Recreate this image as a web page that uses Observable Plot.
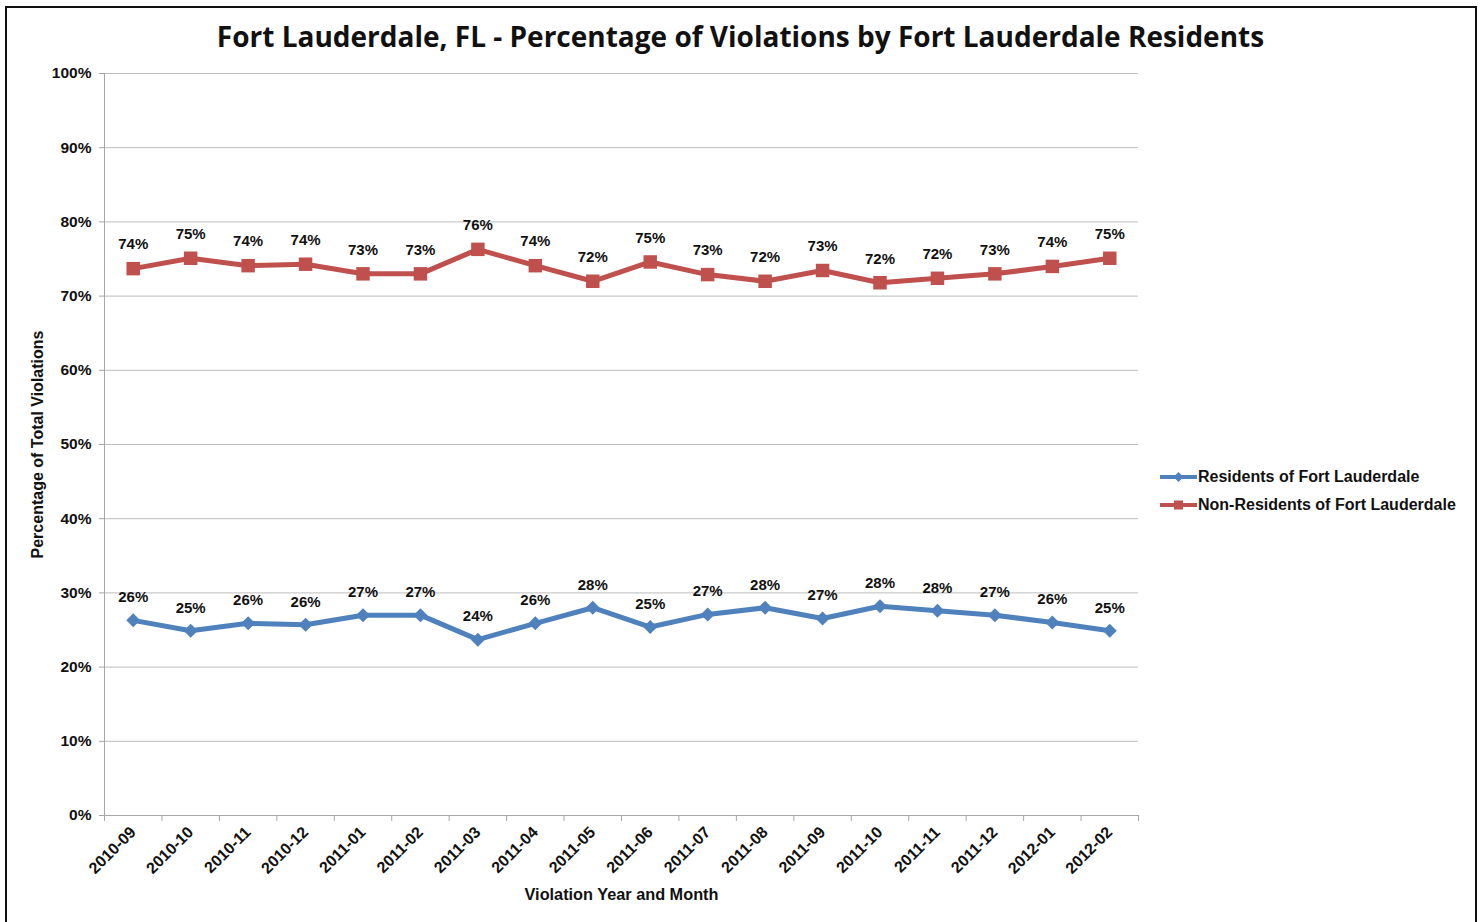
<!DOCTYPE html>
<html>
<head>
<meta charset="utf-8">
<script src="https://cdn.jsdelivr.net/npm/d3@7"></script>
<script src="https://cdn.jsdelivr.net/npm/@observablehq/plot@0.6"></script>
<style>
  html, body { margin: 0; padding: 0; background: #fff; }
  #wrap { position: relative; width: 1481px; height: 922px; overflow: hidden; background: #fff; font-family: "Liberation Sans", Arial, sans-serif; }
  #border { position: absolute; left: 5px; top: 6px; width: 1468px; height: 940px; border: 2px solid #111; box-sizing: content-box; }
  #title { position: absolute; left: 0; top: 20px; width: 1481px; text-align: center; font-family: "Open Sans", Lato, sans-serif; font-weight: 700; font-size: 28px; line-height: 32px; color: #111; }
  #chart { position: absolute; left: 0; top: 0; }
  .leg { position: absolute; left: 1160px; display: flex; align-items: center; font-weight: bold; font-size: 16px; color: #111; white-space: nowrap; }
  .leg svg { margin-right: 1px; }
</style>
</head>
<body>
<div id="wrap">
  <div id="chart"></div>
  <div id="title">Fort Lauderdale, FL - Percentage of Violations by Fort Lauderdale Residents</div>
  <div class="leg" style="top:468px"><svg width="37" height="18"><line x1="0" y1="9" x2="37" y2="9" stroke="#4F81BD" stroke-width="4"/><path d="M18.5,4 L23.5,9 L18.5,14 L13.5,9 Z" fill="#4F81BD"/></svg><span>Residents of Fort Lauderdale</span></div>
  <div class="leg" style="top:496px"><svg width="37" height="18"><line x1="0" y1="9" x2="37" y2="9" stroke="#C0504D" stroke-width="4"/><rect x="14" y="4.5" width="9" height="9" fill="#C0504D"/></svg><span>Non-Residents of Fort Lauderdale</span></div>
  <div id="border"></div>
</div>
<script>
const months = ["2010-09","2010-10","2010-11","2010-12","2011-01","2011-02","2011-03","2011-04","2011-05","2011-06","2011-07","2011-08","2011-09","2011-10","2011-11","2011-12","2012-01","2012-02"];
const residents = [26.3, 24.9, 25.9, 25.7, 27.0, 27.0, 23.7, 25.9, 28.0, 25.4, 27.1, 28.0, 26.55, 28.2, 27.6, 27.0, 26.0, 24.9];
const nonResidents = [73.7, 75.1, 74.1, 74.3, 73.0, 73.0, 76.3, 74.1, 72.0, 74.6, 72.9, 72.0, 73.45, 71.8, 72.4, 73.0, 74.0, 75.1];
const yTicks = [0, 10, 20, 30, 40, 50, 60, 70, 80, 90, 100];
const yTitle = "Percentage of Total Violations";
const xTitle = "Violation Year and Month";

const idx = months.map((m, i) => i);
const bounds = [...idx.map(i => i - 0.5), months.length - 0.5];
const resData = idx.map(i => ({i, v: residents[i]}));
const nonData = idx.map(i => ({i, v: nonResidents[i]}));
const pct = d => Math.round(d.v) + "%";

const chart = Plot.plot({
  width: 1481,
  height: 922,
  marginLeft: 104,
  marginRight: 343,
  marginTop: 73,
  marginBottom: 107,
  style: {fontFamily: '"Liberation Sans", Arial, sans-serif', fontWeight: "bold", color: "#111", background: "transparent", overflow: "visible"},
  x: {type: "linear", domain: [-0.5, months.length - 0.5], axis: null, label: null},
  y: {domain: [0, 100], axis: null, label: null},
  marks: [
    Plot.gridY(yTicks, {stroke: "#bdbdbd", strokeOpacity: 1, strokeWidth: 1}),
    Plot.axisY(yTicks, {label: null, tickSize: 5, tickPadding: 8, stroke: "#a6a6a6", fill: "#111", fontSize: 15.5, fontWeight: "bold", tickFormat: d => d + "%"}),
    Plot.ruleX([-0.5], {stroke: "#a6a6a6"}),
    Plot.ruleY([0], {stroke: "#a6a6a6"}),
    Plot.axisX(bounds, {label: null, tickSize: 6, stroke: "#a6a6a6", tickFormat: () => ""}),
    Plot.axisX(idx, {label: null, tickSize: 0, tickPadding: 14, tickRotate: -45, fontSize: 16, fontWeight: "bold", fill: "#111", tickFormat: i => months[i]}),
    Plot.lineY(resData, {x: "i", y: "v", stroke: "#4F81BD", strokeWidth: 5}),
    Plot.lineY(nonData, {x: "i", y: "v", stroke: "#C0504D", strokeWidth: 5}),
    Plot.dot(resData, {x: "i", y: "v", symbol: "diamond2", r: 6.3, fill: "#4F81BD", stroke: "none"}),
    Plot.dot(nonData, {x: "i", y: "v", symbol: "square", r: 7.6, fill: "#C0504D", stroke: "none"}),
    Plot.text(resData, {x: "i", y: "v", text: pct, dy: -23, fontSize: 15, fontWeight: "bold", fill: "#111"}),
    Plot.text(nonData, {x: "i", y: "v", text: pct, dy: -24, fontSize: 15, fontWeight: "bold", fill: "#111"}),
    Plot.text([yTitle], {frameAnchor: "left", textAnchor: "middle", dx: -67, rotate: -90, fontSize: 16, fontWeight: "bold", fill: "#111"}),
    Plot.text([xTitle], {frameAnchor: "bottom", textAnchor: "middle", dy: 84, fontSize: 16.3, fontWeight: "bold", fill: "#111"})
  ]
});
document.getElementById("chart").appendChild(chart);
</script>
</body>
</html>
